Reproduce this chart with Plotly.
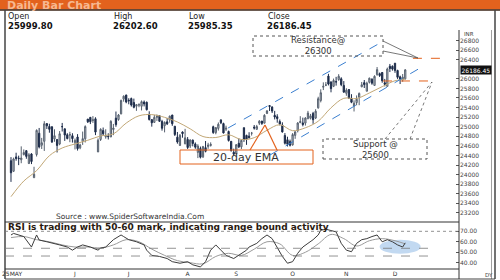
import plotly.graph_objects as go

W, H = 500, 280

# ---------------- data ----------------
dates = ["2025-04-25","2025-04-28","2025-04-29","2025-04-30","2025-05-02","2025-05-05","2025-05-06","2025-05-07","2025-05-08","2025-05-09",
         "2025-05-12","2025-05-13","2025-05-14","2025-05-15","2025-05-16","2025-05-19","2025-05-20","2025-05-21","2025-05-22","2025-05-23",
         "2025-05-26","2025-05-27","2025-05-28","2025-05-29","2025-05-30","2025-06-02","2025-06-03","2025-06-04","2025-06-05","2025-06-06",
         "2025-06-09","2025-06-10","2025-06-11","2025-06-12","2025-06-13","2025-06-16","2025-06-17","2025-06-18","2025-06-19","2025-06-20",
         "2025-06-23","2025-06-24","2025-06-25","2025-06-26","2025-06-27","2025-06-30","2025-07-01","2025-07-02","2025-07-03","2025-07-04",
         "2025-07-07","2025-07-08","2025-07-09","2025-07-10","2025-07-11","2025-07-14","2025-07-15","2025-07-16","2025-07-17","2025-07-18",
         "2025-07-21","2025-07-22","2025-07-23","2025-07-24","2025-07-25","2025-07-28","2025-07-29","2025-07-30","2025-07-31","2025-08-01",
         "2025-08-04","2025-08-05","2025-08-06","2025-08-07","2025-08-08","2025-08-11","2025-08-12","2025-08-13","2025-08-14","2025-08-18",
         "2025-08-19","2025-08-20","2025-08-21","2025-08-22","2025-08-25","2025-08-26","2025-08-28","2025-08-29","2025-09-01","2025-09-02",
         "2025-09-03","2025-09-04","2025-09-05","2025-09-08","2025-09-09","2025-09-10","2025-09-11","2025-09-12","2025-09-15","2025-09-16",
         "2025-09-17","2025-09-18","2025-09-19","2025-09-22","2025-09-23","2025-09-24","2025-09-25","2025-09-26","2025-09-29","2025-09-30",
         "2025-10-01","2025-10-03","2025-10-06","2025-10-07","2025-10-08","2025-10-09","2025-10-10","2025-10-13","2025-10-14","2025-10-15",
         "2025-10-16","2025-10-17","2025-10-20","2025-10-21","2025-10-23","2025-10-24","2025-10-27","2025-10-28","2025-10-29","2025-10-30",
         "2025-10-31","2025-11-03","2025-11-04","2025-11-06","2025-11-07","2025-11-10","2025-11-11","2025-11-12","2025-11-13","2025-11-14",
         "2025-11-17","2025-11-18","2025-11-19","2025-11-20","2025-11-21","2025-11-24","2025-11-25","2025-11-26","2025-11-27","2025-11-28",
         "2025-12-01","2025-12-02","2025-12-03","2025-12-04","2025-12-05"]

opens = [24290,24070,24370,24342,24311,24419,24500,24233,24431,23936,
         24420,24864,24613,24695,25065,25005,24997,24744,24734,24640,
         25002,24957,24832,24826,24812,24669,24786,24560,24691,24749,
         25160,25196,25134,25165,24473,24733,24919,24789,24803,24787,
         24940,25179,25150,25268,25576,25661,25551,25588,25505,25428,
         25450,25427,25514,25511,25255,25149,25090,25196,25231,25109,
         25020,25102,25139,25244,25011,24782,24609,24890,24642,24735,
         24596,24720,24641,24464,24544,24372,24563,24586,24607,25000,
         24877,24965,25142,25065,24949,24900,24695,24466,24432,24654,
         24580,24980,24819,24803,24864,24991,24945,25074,25119,25074,
         25277,25442,25410,25239,25209,25108,25034,24818,24728,24691,
         24620,24819,24916,25085,25079,25075,25167,25177,25277,25181,
         25394,25546,25825,25868,26057,25936,25843,25940,25982,26000,
         25863,25698,25776,25594,25433,25503,25617,25835,25920,25741,
         25927,25992,25862,26090,26108,26132,25917,25842,26262,26262,
         26326,26173,26041,25982,25999.80]
highs = [24365,24355,24457,24396,24590,24526,24510,24449,24447,24164,
         24944,24974,24767,25116,25070,25062,25011,24946,24737,24909,
         25079,24958,24865,24893,24864,24754,24845,24644,24899,25029,
         25160,25199,25222,25197,24755,24967,24983,24947,24863,25136,
         25058,25317,25266,25565,25654,25669,25594,25608,25587,25470,
         25489,25549,25548,25525,25322,25151,25245,25255,25238,25144,
         25111,25182,25233,25247,25011,24890,24847,24902,24956,24784,
         24736,24733,24672,24634,24586,24600,24702,24664,24674,25022,
         24994,25089,25154,25084,25022,24920,24702,24542,24636,24756,
         24730,24980,24833,24885,24891,25036,25038,25139,25120,25261,
         25346,25448,25428,25331,25261,25151,25092,24868,24791,24731,
         24867,24904,25095,25220,25190,25199,25331,25267,25310,25365,
         25625,25781,25926,25934,26104,25944,26005,26041,26097,26032,
         25953,25803,25787,25679,25551,25653,25715,25934,25975,25940,
         26025,26010,26074,26246,26131,26142,25998,26234,26310,26280,
         26326,26190,26066,26100,26202.60]
lows = [23848,24055,24290,24198,24238,24400,24331,24220,24220,23935,
        24378,24547,24535,24494,24953,24875,24660,24686,24462,24614,
        24900,24704,24737,24677,24669,24526,24502,24530,24620,24671,
        25077,25055,25080,24825,24473,24703,24813,24750,24733,24783,
        24824,24999,25125,25259,25523,25490,25468,25420,25384,25331,
        25407,25340,25424,25340,25129,25001,25089,25121,25101,24918,
        24882,25035,25085,25018,24806,24646,24599,24771,24636,24535,
        24554,24590,24539,24345,24338,24347,24465,24539,24586,24852,
        24842,24920,25054,24860,24912,24690,24481,24404,24432,24554,
        24533,24683,24621,24751,24815,24940,24940,25037,25038,25070,
        25264,25329,25286,25152,25084,25027,24878,24629,24587,24588,
        24605,24747,24881,25075,25008,25024,25157,25152,25060,25160,
        25376,25508,25765,25847,25862,25718,25827,25858,25960,25846,
        25711,25646,25578,25491,25318,25448,25449,25823,25808,25740,
        25903,25876,25857,26063,26039,25918,25842,25842,26141,26171,
        26125,25998,25891,25938,25985.35]
closes = [24039,24328,24336,24334,24346,24461,24380,24414,24273,24008,
          24924,24578,24666,25062,25019,24945,24683,24813,24609,24853,
          25001,24826,24752,24833,24751,24716,24542,24620,24751,25003,
          25103,25104,25141,24888,24718,24946,24853,24812,24793,25112,
          24972,25044,25245,25549,25637,25517,25542,25453,25405,25461,
          25461,25523,25476,25355,25150,25082,25196,25212,25112,24968,
          25091,25061,25220,25062,24837,24681,24821,24855,24768,24565,
          24723,24650,24574,24596,24363,24585,24487,24619,24631,24877,
          24980,25051,25083,24870,24968,24712,24501,24427,24625,24580,
          24715,24734,24741,24773,24868,24973,25005,25114,25069,25239,
          25330,25423,25327,25202,25169,25057,24891,24655,24634,24611,
          24836,24894,25077,25108,25046,25182,25285,25227,25146,25324,
          25585,25710,25843,25869,25891,25795,25966,25936,26054,25878,
          25722,25763,25598,25510,25492,25574,25695,25876,25879,25910,
          26013,25910,26052,26192,26068,25960,25885,26205,26216,26203,
          26176,26032,25986,26034,26186.45]

ema_idx = [0,5,10,15,20,25,30,35,40,45,50,55,60,65,70,75,80,85,90,95,100,105,110,115,120,125,130,135,140,145,150,154]
ema_vals = [23540,23866,24083,24395,24556,24640,24717,24807,24851,25076,25228,25253,25196,25099,24956,24795,
            24775,24832,24733,24771,24926,25042,24917,24978,25115,25395,25593,25588,25705,25837,25960,25995]

rsi_idx = [0,1,5,8,10,11,14,16,19,22,24,26,28,31,34,35,37,40,43,44,46,49,52,53,55,58,61,63,66,69,71,74,76,78,80,82,84,87,89,
           92,93,96,98,100,102,104,106,108,110,112,114,116,118,120,121,123,125,127,129,131,133,135,137,139,141,143,145,147,149,151,153,154]
rsi_vals = [66.5,68,65,55,66.5,61.7,60,59,57,55,52,55,57,55,52,54,55,62,66.5,65,62,60,57,52,47,46,44,41,39.5,41,38,36,41,52,57,52,47,44,47,
            52,55,58.5,63,66.5,63,55,46,39.5,41,49,55,58.5,62,66.5,71,72,71,69.5,58.5,52,50.5,58.5,62,63,65,66.5,60,62,60,57,55,59]

sig_idx = [0,5,10,15,20,25,30,35,40,45,50,55,60,65,70,75,80,85,90,95,100,105,110,115,120,125,130,135,140,145,150,154]
sig_vals = [64,65,62,60,57,55,55,54,57,62,60,53,47,42,40,39,46,49,47,53,60,58,47,50,58,67,63,56,61,63,61,58]

price_ticks = [26800,26600,26400,26000,25800,25600,25400,25200,25000,24800,24600,24400,24200,24000,23800,23600,23400,23200]
rsi_ticks = [40,50,60,70]
month_idx = [25,46,69,88,110,131,150]
month_labels = ["J","J","A","S","O","N","D"]
first_label = "25MAY"

resistance_level = 26300
support_level = 25600
rsi_band = [53.8, 46.4]

idx = list(range(len(dates)))

# ------------- helpers (pixel -> paper) -------------
def px(x):
    return x / W

def py(y):
    return 1 - y / H

FONT = "DejaVu Sans"

fig = go.Figure()
fig.add_trace(go.Candlestick(
    x=idx, open=opens, high=highs, low=lows, close=closes,
    increasing=dict(line=dict(color="#56606e", width=1), fillcolor="#c3c9d2"),
    decreasing=dict(line=dict(color="#1d2c4a", width=1), fillcolor="#1d2c4a"),
    whiskerwidth=0, xaxis="x", yaxis="y", showlegend=False, hoverinfo="skip"))
fig.add_trace(go.Scatter(x=ema_idx, y=ema_vals, mode="lines", line=dict(color="#c2a877", width=1, shape="spline"),
                         xaxis="x", yaxis="y", showlegend=False, hoverinfo="skip"))
fig.add_trace(go.Scatter(x=sig_idx, y=sig_vals, mode="lines", line=dict(color="#9a9a9a", width=1, shape="spline"),
                         xaxis="x2", yaxis="y2", showlegend=False, hoverinfo="skip"))
fig.add_trace(go.Scatter(x=rsi_idx, y=rsi_vals, mode="lines", line=dict(color="#3c3c3c", width=1),
                         xaxis="x2", yaxis="y2", showlegend=False, hoverinfo="skip"))

x_range = [-1.95, 175]
shapes = []
# title bar
shapes.append(dict(type="rect", xref="paper", yref="paper", x0=0, x1=1, y0=py(9.5), y1=1,
                   fillcolor="#e3621d", line=dict(width=0), layer="below"))
shapes.append(dict(type="line", xref="paper", yref="paper", x0=0, x1=1, y0=py(10), y1=py(10),
                   line=dict(color="#3b2417", width=1.3)))
# frame
shapes.append(dict(type="line", xref="paper", yref="paper", x0=px(5), x1=px(5), y0=py(279), y1=py(10),
                   line=dict(color="#444", width=1.5)))
shapes.append(dict(type="line", xref="paper", yref="paper", x0=px(495), x1=px(495), y0=py(279), y1=py(10),
                   line=dict(color="#444", width=1.5)))
shapes.append(dict(type="line", xref="paper", yref="paper", x0=px(491.5), x1=px(491.5), y0=py(279), y1=py(30),
                   line=dict(color="#888", width=0.8)))
shapes.append(dict(type="line", xref="paper", yref="paper", x0=px(5), x1=px(495), y0=py(279), y1=py(279),
                   line=dict(color="#444", width=1.2)))
# RSI panel borders
shapes.append(dict(type="line", xref="paper", yref="paper", x0=px(5), x1=px(459), y0=py(222), y1=py(222),
                   line=dict(color="#333", width=1)))
shapes.append(dict(type="line", xref="paper", yref="paper", x0=px(5), x1=px(459), y0=py(269), y1=py(269),
                   line=dict(color="#333", width=1)))
shapes.append(dict(type="line", xref="paper", yref="paper", x0=px(459), x1=px(459), y0=py(279), y1=py(30),
                   line=dict(color="#333", width=1)))
# channel lines (data coords)
shapes.append(dict(type="line", xref="x", yref="y", x0=84.8, y0=24973, x1=144.9, y1=26769,
                   line=dict(color="#3b7fd0", width=1, dash="dash")))
shapes.append(dict(type="line", xref="x", yref="y", x0=101.2, y0=24410, x1=160.5, y1=26247,
                   line=dict(color="#3b7fd0", width=1, dash="dash")))
# resistance / support dashes
shapes.append(dict(type="line", xref="x", yref="y", x0=157, y0=26428, x1=170.7, y1=26428,
                   line=dict(color="#e3621d", width=1, dash="dash")))
shapes.append(dict(type="line", xref="x", yref="y", x0=145.3, y0=25955, x1=166.4, y1=25955,
                   line=dict(color="#e3621d", width=1, dash="dash")))
# RSI reference lines
shapes.append(dict(type="line", xref="paper", yref="y2", x0=px(5), x1=px(459), y0=70, y1=70,
                   line=dict(color="#777", width=0.8, dash="dot")))
for v in rsi_band:
    shapes.append(dict(type="line", xref="paper", yref="y2", x0=px(5), x1=px(428), y0=v, y1=v,
                       line=dict(color="#777", width=0.8, dash="dash")))
# RSI highlight ellipse
shapes.append(dict(type="circle", xref="x2", yref="y2", x0=144, x1=160, y0=48.6, y1=62,
                   fillcolor="rgba(120,170,225,0.45)", line=dict(width=0), layer="below"))
# Resistance box + callout
shapes.append(dict(type="rect", xref="paper", yref="paper", x0=px(253), x1=px(383), y0=py(56), y1=py(36),
                   line=dict(color="#555", width=1, dash="dot")))
shapes.append(dict(type="line", xref="paper", yref="paper", x0=px(383), y0=py(41), x1=px(418), y1=py(58),
                   line=dict(color="#555", width=0.8)))
shapes.append(dict(type="line", xref="paper", yref="paper", x0=px(383), y0=py(51), x1=px(418), y1=py(58),
                   line=dict(color="#555", width=0.8)))
# Support box + callout
shapes.append(dict(type="rect", xref="paper", yref="paper", x0=px(323), x1=px(427), y0=py(159), y1=py(139),
                   line=dict(color="#555", width=1, dash="dot")))
shapes.append(dict(type="line", xref="paper", yref="paper", x0=px(385), y0=py(139), x1=px(432), y1=py(82),
                   line=dict(color="#555", width=0.8, dash="dot")))
shapes.append(dict(type="line", xref="paper", yref="paper", x0=px(410), y0=py(139), x1=px(432), y1=py(82),
                   line=dict(color="#555", width=0.8, dash="dot")))
# EMA box + callout
shapes.append(dict(type="rect", xref="paper", yref="paper", x0=px(180), x1=px(313), y0=py(164), y1=py(150),
                   line=dict(color="#e3621d", width=1)))
shapes.append(dict(type="line", xref="paper", yref="paper", x0=px(250), y0=py(150), x1=px(265), y1=py(125),
                   line=dict(color="#e3621d", width=1.2)))
shapes.append(dict(type="line", xref="paper", yref="paper", x0=px(265), y0=py(125), x1=px(277), y1=py(150),
                   line=dict(color="#e3621d", width=1.2)))

ann = []
def text(x, y, s, size=8, color="#222", bold=False, xanchor="left", family=FONT):
    ann.append(dict(xref="paper", yref="paper", x=px(x), y=py(y), text=(f"<b>{s}</b>" if bold else s),
                    showarrow=False, xanchor=xanchor, yanchor="middle", borderpad=0,
                    font=dict(family=family, size=size, color=color)))

text(6, 5, "Daily Bar Chart", size=11, color="#f6b891", bold=True)
text(7, 16, "Open", size=8, color="#222")
text(113, 16, "High", size=8, color="#222")
text(188, 16, "Low", size=8, color="#222")
text(267, 16, "Close", size=8, color="#222")
text(7, 25.5, f"{opens[-1]:.2f}", size=8.5, color="#111", bold=True)
text(112, 25.5, f"{highs[-1]:.2f}", size=8.5, color="#111", bold=True)
text(187, 25.5, f"{lows[-1]:.2f}", size=8.5, color="#111", bold=True)
text(266, 25.5, f"{closes[-1]:.2f}", size=8.5, color="#111", bold=True)
text(318, 46, f"Resistance@<br>{resistance_level}", size=8.5, color="#333", xanchor="center")
text(375, 149, f"Support @<br>{support_level}", size=8.5, color="#333", xanchor="center")
text(246, 157, "20-day EMA", size=11, color="#333", xanchor="center")
text(130, 216, "Source : www.SpiderSoftwareIndia.Com", size=7.5, color="#333", xanchor="center")
text(7, 226.5, "RSI is trading with 50-60 mark, indicating range bound activity", size=9, color="#2a1a10", bold=True)
text(463, 34, "INR", size=5.5, color="#444")
text(484, 275, "DY", size=5.5, color="#444")
text(1, 273, first_label, size=6, color="#333")
ann.append(dict(xref="paper", yref="y", x=px(460), y=closes[-1], text=f"{closes[-1]:.2f}", showarrow=False,
                xanchor="left", yanchor="middle", bgcolor="#111", borderpad=0.5,
                font=dict(family=FONT, size=6, color="#fff")))

fig.update_layout(
    width=W, height=H, margin=dict(l=0, r=0, t=0, b=0),
    paper_bgcolor="white", plot_bgcolor="white", showlegend=False,
    boxgap=0.3,
    xaxis=dict(domain=[px(6), px(459)], range=x_range, anchor="y", showticklabels=False, showgrid=False,
               zeroline=False, showline=False, ticks="", rangeslider=dict(visible=False), fixedrange=True),
    xaxis2=dict(domain=[px(6), px(459)], range=x_range, anchor="y2", matches="x", tickvals=month_idx,
                ticktext=month_labels, showgrid=False, zeroline=False, showline=False, ticks="",
                tickfont=dict(family=FONT, size=6, color="#333")),
    yaxis=dict(domain=[py(222), py(30)], range=[23011, 27019], anchor="x", side="right", showgrid=False,
               zeroline=False, showline=False, ticks="inside", ticklen=3, tickcolor="#555",
               tickvals=price_ticks, ticktext=[str(v) for v in price_ticks],
               tickfont=dict(family=FONT, size=6, color="#444")),
    yaxis2=dict(domain=[py(269), py(222)], range=[34, 78.9], anchor="x2", side="right", showgrid=False,
                zeroline=False, showline=False, ticks="inside", ticklen=3, tickcolor="#555",
                tickvals=rsi_ticks, ticktext=[f"{v:.2f}" for v in rsi_ticks],
                tickfont=dict(family=FONT, size=6, color="#444")),
    shapes=shapes, annotations=ann,
)

fig.write_html("out.html")
